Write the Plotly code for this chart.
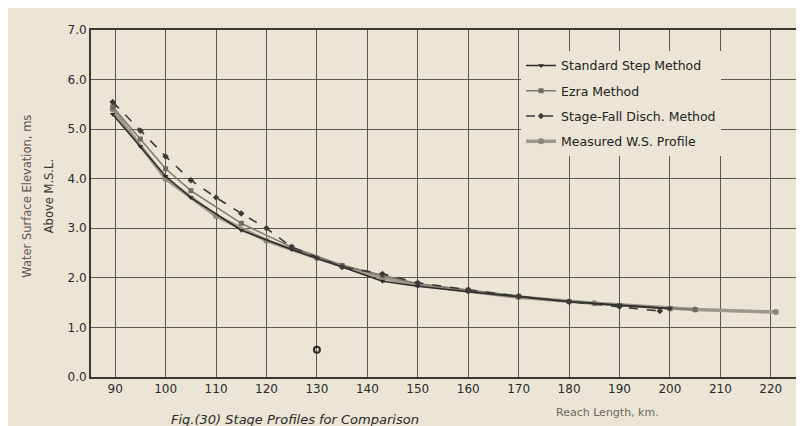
import plotly.graph_objects as go

# ---- data ----
std_x = [89.5, 95, 100, 105, 115, 125, 130, 135, 143, 150, 160, 170, 180, 190, 200]
std_y = [5.30, 4.65, 4.05, 3.62, 2.96, 2.57, 2.40, 2.22, 1.93, 1.83, 1.72, 1.62, 1.52, 1.45, 1.38]

ezra_x = [89.5, 95, 100, 105, 115, 125, 135, 143, 150, 160, 170, 180, 190, 200, 205]
ezra_y = [5.45, 4.80, 4.20, 3.76, 3.10, 2.62, 2.25, 2.05, 1.88, 1.75, 1.63, 1.52, 1.44, 1.38, 1.36]

sf_x = [89.5, 95, 100, 105, 110, 115, 120, 125, 135, 143, 150, 160, 170, 180, 190, 198]
sf_y = [5.55, 4.97, 4.45, 3.97, 3.62, 3.30, 3.00, 2.62, 2.22, 2.08, 1.90, 1.76, 1.63, 1.52, 1.42, 1.33]

meas_x = [89.5, 100, 110, 120, 130, 135, 143, 150, 160, 170, 185, 200, 205, 221]
meas_y = [5.40, 4.00, 3.25, 2.75, 2.40, 2.24, 2.00, 1.86, 1.74, 1.61, 1.49, 1.38, 1.36, 1.31]

outlier_x = [130]
outlier_y = [0.55]

x_ticks = [90, 100, 110, 120, 130, 140, 150, 160, 170, 180, 190, 200, 210, 220]
y_ticks = [0, 1, 2, 3, 4, 5, 6, 7]
y_tick_text = ["0.0", "1.0", "2.0", "3.0", "4.0", "5.0", "6.0", "7.0"]

BG = "#ebe5d5"
FONT = "DejaVu Sans"

fig = go.Figure()

fig.add_trace(go.Scatter(
    x=meas_x, y=meas_y, name="Measured W.S. Profile", mode="lines+markers",
    line=dict(color="#9c988c", width=3.5), marker=dict(size=6, color="#8a867a", symbol="circle"),
    legendgroup="d", legendrank=4))
fig.add_trace(go.Scatter(
    x=ezra_x, y=ezra_y, name="Ezra Method", mode="lines+markers",
    line=dict(color="#7d7a72", width=1.6), marker=dict(size=5, color="#6f6c64", symbol="square"),
    legendgroup="b", legendrank=2))
fig.add_trace(go.Scatter(
    x=std_x, y=std_y, name="Standard Step Method", mode="lines+markers",
    line=dict(color="#2b2b2b", width=1.6), marker=dict(size=5, color="#2b2b2b", symbol="triangle-down"),
    legendgroup="a", legendrank=1))
fig.add_trace(go.Scatter(
    x=sf_x, y=sf_y, name="Stage-Fall Disch. Method", mode="lines+markers",
    line=dict(color="#3a3a3a", width=1.6, dash="dash"), marker=dict(size=5, color="#3a3a3a", symbol="diamond"),
    legendgroup="c", legendrank=3))
fig.add_trace(go.Scatter(
    x=outlier_x, y=outlier_y, mode="markers", showlegend=False,
    marker=dict(size=6, color="rgba(0,0,0,0)", line=dict(color="#2b2b2b", width=2), symbol="circle")))

axis_common = dict(
    showgrid=True, gridcolor="#5a5750", gridwidth=1.3,
    showline=True, linecolor="#3a3833", linewidth=2, mirror=True,
    zeroline=False, ticks="", tickfont=dict(family=FONT, size=12, color="#2a2a2a"),
)

fig.update_xaxes(range=[85.2, 225], tickvals=x_ticks, **axis_common)
fig.update_yaxes(range=[0, 7.0], tickvals=y_ticks, ticktext=y_tick_text, **axis_common)

fig.update_layout(
    width=804, height=426,
    margin=dict(l=83, r=16, t=22, b=57),
    paper_bgcolor=BG, plot_bgcolor=BG,
    font=dict(family=FONT, color="#2a2a2a"),
    legend=dict(x=0.61, y=0.94, xanchor="left", yanchor="top",
                bgcolor=BG, borderwidth=0, traceorder="grouped", tracegroupgap=6,
                font=dict(family=FONT, size=12.5, color="#222")),
    annotations=[
        dict(text="Reach Length, km.", x=0.733, y=-0.103, xref="paper", yref="paper",
             showarrow=False, font=dict(family=FONT, size=11, color="#6a6660"), xanchor="center", yanchor="middle"),
        dict(text="Water Surface Elevation, ms", x=-0.092, y=0.52, xref="paper", yref="paper",
             showarrow=False, textangle=-90, font=dict(family=FONT, size=11.5, color="#5a5650"),
             xanchor="center", yanchor="middle"),
        dict(text="Above M.S.L.", x=-0.06, y=0.52, xref="paper", yref="paper",
             showarrow=False, textangle=-90, font=dict(family=FONT, size=11.5, color="#3a3630"),
             xanchor="center", yanchor="middle"),
        dict(text="<i>Fig.(30) Stage Profiles for Comparison</i>", x=0.11, y=-0.122,
             xref="paper", yref="paper", showarrow=False, xanchor="left", yanchor="middle",
             font=dict(family=FONT, size=13, color="#2a2a2a")),
    ],
)

fig.write_html("out.html")
